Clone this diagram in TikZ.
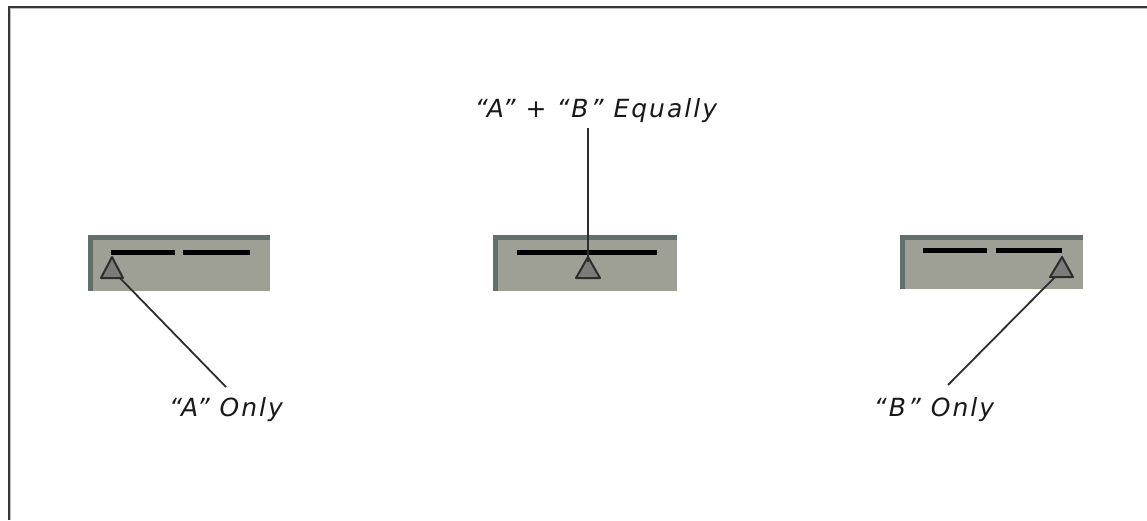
\documentclass[tikz,border=0pt]{standalone}
\usepackage{fontspec}
\newfontfamily\lblfont[LetterSpace=8]{DejaVu Sans}
\definecolor{framedark}{RGB}{55,55,55}
\definecolor{framelight}{RGB}{190,190,190}
\definecolor{boxgray}{RGB}{158,160,150}
\definecolor{boxdark}{RGB}{100,110,106}
\definecolor{trifill}{RGB}{122,124,119}
\definecolor{inkgray}{RGB}{45,45,45}
\tikzset{
  panel/.style={fill=boxgray},
  panelrim/.style={fill=boxdark},
  slider/.style={line width=5pt, black},
  pointer/.style={fill=trifill, draw=inkgray, line width=2pt, line join=round},
  leader/.style={draw=inkgray, line width=1.8pt},
  lbl/.style={inner sep=0pt, text=black!90, font=\lblfont\itshape\fontsize{25}{29}\selectfont}
}
\begin{document}
\begin{tikzpicture}[x=1pt,y=-1pt]
\useasboundingbox (0,0) rectangle (1147,520);
\fill[white] (0,0) rectangle (1147,520);
% frame
\draw[framedark, line width=2pt] (9,520) -- (9,7) -- (1147,7);
\draw[framelight, line width=1pt] (10.5,520) -- (10.5,8.5) -- (1147,8.5);

% left panel
\fill[panel] (88,235) rectangle (270,291);
\fill[panelrim] (88,235) rectangle (270,240);
\fill[panelrim] (88,235) rectangle (93,291);
\draw[slider] (111,252) -- (175,252);
\draw[slider] (183,252) -- (250,252);
\coordinate (triAtop) at (112,257);
\coordinate (triAl) at (101,278);
\coordinate (triAr) at (123,278);
\coordinate (triAfoot) at (120,278);
\draw[pointer] (triAtop) -- (triAr) -- (triAl) -- cycle;

% middle panel
\fill[panel] (493,235) rectangle (677,291);
\fill[panelrim] (493,235) rectangle (677,240);
\fill[panelrim] (493,235) rectangle (498,291);
\draw[slider] (517,252) -- (657,252);
\coordinate (triMtop) at (588,257);
\coordinate (triMl) at (576,278);
\coordinate (triMr) at (600,278);
\draw[pointer] (triMtop) -- (triMr) -- (triMl) -- cycle;

% right panel
\fill[panel] (900,235) rectangle (1083,289);
\fill[panelrim] (900,235) rectangle (1083,240);
\fill[panelrim] (900,235) rectangle (905,289);
\draw[slider] (923,250) -- (987,250);
\draw[slider] (996,250) -- (1062,250);
\coordinate (triBtop) at (1062,257);
\coordinate (triBl) at (1050,277);
\coordinate (triBr) at (1073,277);
\coordinate (triBfoot) at (1055,277);
\draw[pointer] (triBtop) -- (triBr) -- (triBl) -- cycle;

% labels
\node[lbl] (labAB) at (596,111) {“A” + “B” Equally};
\node[lbl] (labA) at (226,410) {“A” Only};
\node[lbl] (labB) at (934,410) {“B” Only};

\coordinate (endAB) at (588,128);
\coordinate (endA) at (226,387);
\coordinate (endB) at (948,385);

% leaders
\draw[leader] (endAB) -- (588,262);
\draw[leader] (triAfoot) -- (endA);
\draw[leader] (triBfoot) -- (endB);
\end{tikzpicture}
\end{document}
